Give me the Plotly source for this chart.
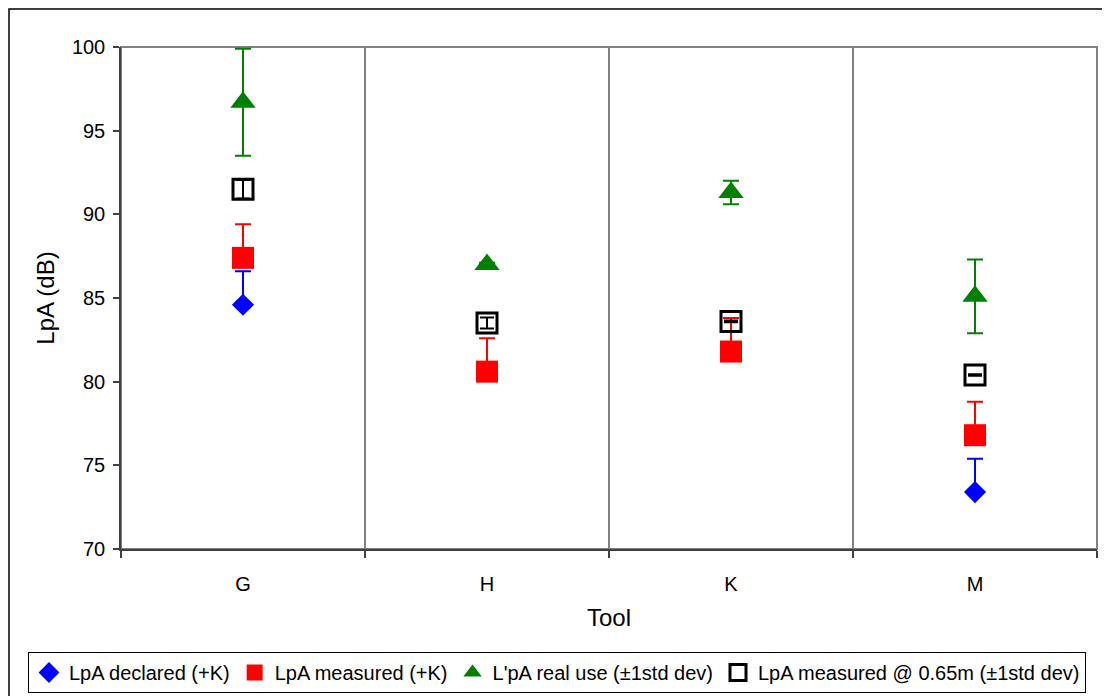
import plotly.graph_objects as go

tools = ["G", "H", "K", "M"]

declared = [84.6, None, None, 73.4]
declared_k = [2.0, 0, 0, 2.0]

measured = [87.4, 80.6, 81.8, 76.8]
measured_k = [2.0, 2.0, 2.0, 2.0]

real_use = [96.7, 87.0, 91.3, 85.1]
real_use_sd = [3.2, 0.1, 0.7, 2.2]

measured_065 = [91.5, 83.5, 83.6, 80.4]
measured_065_sd = [0.55, 0.33, 0.05, 0.05]

FONT = "Liberation Sans, Arial, sans-serif"

# the page body has an 8px margin; the figure is sized/offset to compensate
W, H = 1102, 704
ML, MR, MT = 113, 13, 39
PW, PH = 976, 502
MB = H - MT - PH

fig = go.Figure()

fig.add_trace(go.Scatter(
    x=tools, y=declared, mode="markers", name="LpA declared (+K)",
    marker=dict(symbol="diamond", size=17, color="#0000FF", line=dict(width=0)),
    error_y=dict(type="data", symmetric=False, array=declared_k,
                 arrayminus=[0] * 4, color="#0000FF", thickness=2, width=8),
))
fig.add_trace(go.Scatter(
    x=tools, y=measured, mode="markers", name="LpA measured (+K)",
    marker=dict(symbol="square", size=22, color="#FF0000", line=dict(width=0)),
    error_y=dict(type="data", symmetric=False, array=measured_k,
                 arrayminus=[0] * 4, color="#FF0000", thickness=2, width=8),
))
fig.add_trace(go.Scatter(
    x=tools, y=real_use, mode="markers", name="L'pA real use (±1std dev)",
    marker=dict(symbol="triangle-up", size=22, color="#008000", line=dict(width=0)),
    error_y=dict(type="data", array=real_use_sd, color="#008000",
                 thickness=2, width=8),
))
fig.add_trace(go.Scatter(
    x=tools, y=measured_065, mode="markers",
    name="LpA measured @ 0.65m (±1std dev)",
    marker=dict(symbol="square-open", size=20, color="#000000",
                line=dict(width=3, color="#000000")),
    error_y=dict(type="data", array=measured_065_sd, color="#000000",
                 thickness=2, width=7),
))

fig.update_layout(
    width=W, height=H,
    margin=dict(l=ML, r=MR, t=MT, b=MB),
    paper_bgcolor="white", plot_bgcolor="white",
    font=dict(family=FONT, size=20, color="#000000"),
    showlegend=True,
    legend=dict(
        orientation="h", x=(20 - ML) / PW, xanchor="left",
        y=-(644 - (MT + PH)) / PH, yanchor="top",
        bordercolor="#000000", borderwidth=1, font=dict(size=20),
        itemwidth=30, tracegroupgap=0,
    ),
    xaxis=dict(
        type="category", range=[-0.5, 3.5], tickson="boundaries",
        ticks="outside", ticklen=7, tickcolor="#404040", tickwidth=1.5,
        ticklabelstandoff=16, automargin=False,
        showgrid=True, gridcolor="#808080", gridwidth=1.5,
        showline=True, linecolor="#404040", linewidth=1.5,
        title=dict(text="Tool", standoff=15),
    ),
    yaxis=dict(
        range=[70, 100], dtick=5, ticks="outside", ticklen=6,
        tickcolor="#404040", tickwidth=1.5, ticklabelstandoff=4,
        automargin=False,
        showgrid=False, zeroline=False,
        showline=True, linecolor="#404040", linewidth=1.5,
        title=dict(text="LpA (dB)", standoff=10),
    ),
    shapes=[
        dict(type="rect", xref="paper", yref="paper", x0=0, x1=1, y0=0, y1=1,
             line=dict(color="#808080", width=2), layer="below"),
        dict(type="rect", xref="paper", yref="paper",
             x0=(1 - ML) / PW, x1=1.1, y0=-0.5, y1=1 + (MT - 1) / PH,
             line=dict(color="#000000", width=1.5), layer="below"),
    ],
)

fig.write_html("out.html")
